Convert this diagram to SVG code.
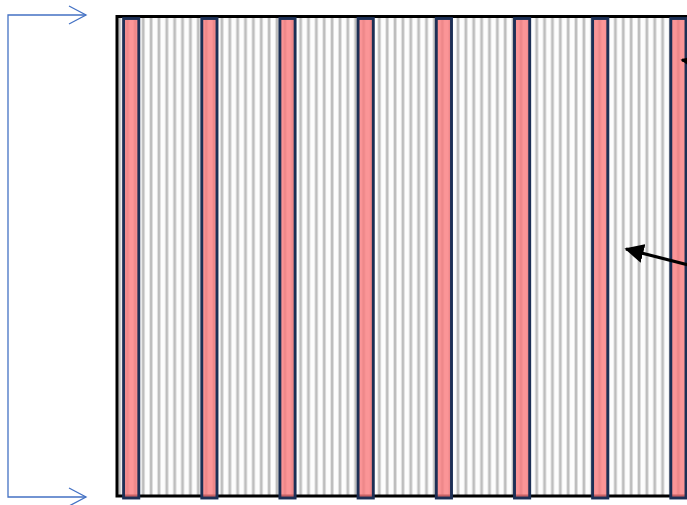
<svg xmlns="http://www.w3.org/2000/svg" width="687" height="505" viewBox="0 0 687 505">
<style>
.strip{fill:#fa7a7d;fill-opacity:0.8;stroke:#1c2f55;stroke-width:2.9}
.blue{fill:none;stroke:#4472c4;stroke-width:1.3}
.blk{stroke:#000;stroke-width:3.2;fill:none}
</style>
<defs>
<pattern id="lines" patternUnits="userSpaceOnUse" x="296.6" y="0" width="7.87" height="10">
<rect x="0" y="0" width="7.87" height="10" fill="#fdfdfd"/>
<rect x="2.4" y="0" width="3.2" height="10" fill="#e2e2e2"/>
<rect x="2.8" y="0" width="2.4" height="10" fill="#bdbdbd"/>
</pattern>
<marker id="ah" markerWidth="6" markerHeight="6" refX="5.5" refY="3" orient="auto" markerUnits="strokeWidth">
<path d="M0,0 L6,3 L0,6 z" fill="#000"/>
</marker>
</defs>
<g id="panel">
<rect x="117" y="16.5" width="580" height="479.5" fill="url(#lines)" stroke="#000" stroke-width="3"/>
</g>
<g id="strips">
<rect class="strip" x="123.6" y="18.5" width="15.2" height="479.5"/>
<rect class="strip" x="201.8" y="18.5" width="15.2" height="479.5"/>
<rect class="strip" x="279.9" y="18.5" width="15.2" height="479.5"/>
<rect class="strip" x="358.1" y="18.5" width="15.2" height="479.5"/>
<rect class="strip" x="436.3" y="18.5" width="15.2" height="479.5"/>
<rect class="strip" x="514.5" y="18.5" width="15.2" height="479.5"/>
<rect class="strip" x="592.6" y="18.5" width="15.2" height="479.5"/>
<rect class="strip" x="670.8" y="18.5" width="15.2" height="479.5"/>
</g>
<g id="connectors">
<path class="blue" d="M86,15 L8,15 L8,497 L86,497"/>
<path class="blue" d="M69,6 L86,15 L69,24"/>
<path class="blue" d="M69,488 L86,497 L69,506"/>
<line class="blk" x1="692" y1="266" x2="626" y2="249" marker-end="url(#ah)"/>
<line class="blk" x1="700" y1="63" x2="682" y2="60" marker-end="url(#ah)"/>
</g>
</svg>
